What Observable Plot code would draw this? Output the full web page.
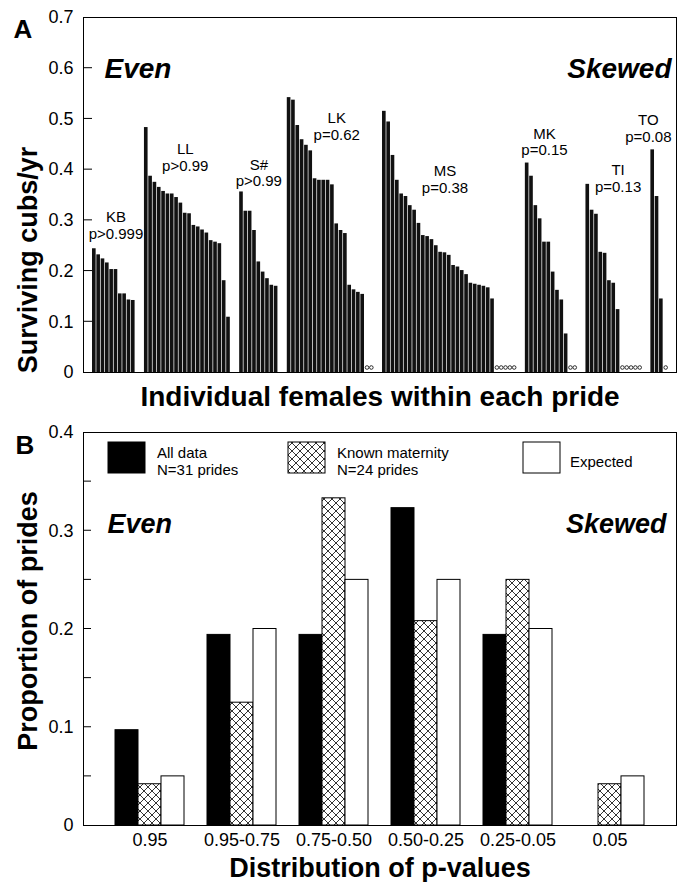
<!DOCTYPE html>
<html><head><meta charset="utf-8">
<script src="https://cdn.jsdelivr.net/npm/d3@7"></script>
<script src="https://cdn.jsdelivr.net/npm/@observablehq/plot@0.6"></script>
<style>
body{margin:0;background:#fff;}
#wrap{width:687px;height:882px;overflow:hidden;}
svg{display:block;}
svg [aria-label^="y-axis"] text{font-size:18px;}
svg [aria-label^="x-axis"] text{font-size:18px;}
</style></head><body><div id="wrap"></div>
<script>
// ---------- Panel A data ----------
const prides = ["KB","LL","S#","LK","MS","MK","TI","TO"];
const pLabels = ["p>0.999","p>0.99","p>0.99","p=0.62","p=0.38","p=0.15","p=0.13","p=0.08"];
const kbCubs = [0.244,0.232,0.224,0.216,0.203,0.203,0.155,0.155,0.143,0.142];
const llCubs = [0.483,0.387,0.375,0.365,0.357,0.352,0.352,0.345,0.334,0.314,0.313,0.290,0.287,0.281,0.275,0.260,0.257,0.254,0.181,0.109];
const sCubs  = [0.356,0.318,0.318,0.280,0.218,0.198,0.185,0.172,0.170];
const lkCubs = [0.542,0.537,0.487,0.459,0.448,0.437,0.382,0.379,0.379,0.379,0.370,0.293,0.280,0.274,0.172,0.163,0.158,0.154];
const msCubs = [0.515,0.494,0.428,0.379,0.352,0.347,0.329,0.320,0.294,0.270,0.268,0.262,0.250,0.237,0.236,0.231,0.211,0.208,0.201,0.193,0.176,0.174,0.172,0.170,0.167,0.145];
const mkCubs = [0.413,0.387,0.329,0.303,0.257,0.257,0.198,0.162,0.143,0.076];
const tiCubs = [0.371,0.320,0.312,0.237,0.235,0.181,0.176,0.124];
const toCubs = [0.439,0.347,0.145];
const zeroFemales = [0,0,0,2,5,2,5,1];
// annotation layout (label slot offset within pride, label baseline value)
const labelOffset = [5,9,4,11,14,4,7,-1];
const labelY = [0.264,0.397,0.367,0.458,0.354,0.428,0.356,0.454];
const gapSlots = 2;
const yTicksA = [0,0.1,0.2,0.3,0.4,0.5,0.6,0.7];

// ---------- Panel B data ----------
const pCats = ["0.95","0.95-0.75","0.75-0.50","0.50-0.25","0.25-0.05","0.05"];
const seriesNames = ["All data","Known maternity","Expected"];
const allData = [0.097,0.194,0.194,0.323,0.194,0];
const knownMaternity = [0.042,0.125,0.333,0.208,0.250,0.042];
const expected = [0.05,0.20,0.25,0.25,0.20,0.05];
const yTicksB = [0,0.1,0.2,0.3,0.4];

const FONT = "'Liberation Sans', Arial, Helvetica, sans-serif";
const fmt = d => d === 0 ? "0" : d3.format(".1f")(d);

// ---------- build panel A ----------
const cubsByPride = [kbCubs,llCubs,sCubs,lkCubs,msCubs,mkCubs,tiCubs,toCubs];
const slots = [], bars = [], zeros = [], labels = [];
let k = 0;
const newSlot = () => { const key = "s" + (k++); slots.push(key); return key; };
prides.forEach((p, i) => {
  for (let g = 0; g < gapSlots; g++) newSlot();
  const start = slots.length;
  cubsByPride[i].forEach(v => bars.push({slot: newSlot(), v, pride: p}));
  for (let z = 0; z < zeroFemales[i]; z++) zeros.push({slot: newSlot(), v: 0});
  labels.push({slot: slots[start + labelOffset[i]], y: labelY[i], text: p + "\n" + pLabels[i]});
});
for (let g = 0; g < gapSlots; g++) newSlot();

const chartA = Plot.plot({
  width: 687, height: 415,
  marginTop: 17, marginBottom: 43, marginLeft: 83, marginRight: 11,
  style: {fontFamily: FONT, fontSize: "17px", color: "black", background: "white"},
  x: {type: "band", domain: slots, padding: 0, axis: null},
  y: {domain: [0, 0.7], ticks: yTicksA, tickFormat: fmt, tickSize: 0, tickPadding: 10, label: null},
  marks: [
    Plot.barY(bars, {x: "slot", y: "v", fill: "#111", insetLeft: 0.35, insetRight: 0.35}),
    Plot.dot(zeros, {x: "slot", y: "v", r: 1.8, stroke: "black", strokeWidth: 0.8, fill: "white", dy: -5}),
    Plot.text(labels, {x: "slot", y: "y", text: "text", lineAnchor: "bottom", lineHeight: 1.12, fontSize: 15, textAnchor: "middle"}),
    Plot.text(["Even"], {frameAnchor: "top-left", textAnchor: "start", lineAnchor: "bottom", dx: 21, dy: 60, fontSize: 28, fontWeight: "bold", fontStyle: "italic"}),
    Plot.text(["Skewed"], {frameAnchor: "top-right", textAnchor: "end", lineAnchor: "bottom", dx: -5, dy: 60, fontSize: 28, fontWeight: "bold", fontStyle: "italic"}),
    Plot.text(["A"], {frameAnchor: "top-left", textAnchor: "start", lineAnchor: "bottom", dx: -70, dy: 20, fontSize: 26, fontWeight: "bold"}),
    Plot.text(["Surviving cubs/yr"], {frameAnchor: "left", textAnchor: "middle", lineAnchor: "middle", rotate: -90, dx: -55, dy: 65, fontSize: 27, fontWeight: "bold"}),
    Plot.text(["Individual females within each pride"], {frameAnchor: "bottom", textAnchor: "middle", lineAnchor: "bottom", dy: 33, fontSize: 28, fontWeight: "bold"}),
    Plot.frame({stroke: "black", strokeWidth: 1})
  ]
});

// ---------- build panel B ----------
const seriesValues = [allData, knownMaternity, expected];
const slotsB = [], barsB = [];
pCats.forEach((c, i) => {
  slotsB.push("gap" + i);
  seriesNames.forEach((s, j) => {
    const key = c + "|" + s;
    slotsB.push(key);
    barsB.push({key, cat: c, series: s, v: seriesValues[j][i]});
  });
});
slotsB.push("gapEnd");
const tickKeys = pCats.map(c => c + "|" + seriesNames[1]);
const sel = s => barsB.filter(d => d.series === s && d.v > 0);

const chartB = Plot.plot({
  width: 687, height: 467,
  marginTop: 17, marginBottom: 57, marginLeft: 83, marginRight: 11,
  style: {fontFamily: FONT, fontSize: "17px", color: "black", background: "white"},
  x: {type: "band", domain: slotsB, padding: 0, ticks: tickKeys, tickFormat: d => d.split("|")[0], tickSize: 0, tickPadding: 8, label: null},
  y: {domain: [0, 0.4], ticks: yTicksB, tickFormat: fmt, tickSize: 0, tickPadding: 10, label: null},
  marks: [
    Plot.barY(sel(seriesNames[0]), {x: "key", y: "v", fill: "black", stroke: "black", strokeWidth: 1}),
    Plot.barY(sel(seriesNames[1]), {x: "key", y: "v", fill: "url(#xhatch)", stroke: "black", strokeWidth: 1}),
    Plot.barY(sel(seriesNames[2]), {x: "key", y: "v", fill: "white", stroke: "black", strokeWidth: 1}),
    Plot.text(["Even"], {frameAnchor: "top-left", textAnchor: "start", lineAnchor: "bottom", dx: 24, dy: 100, fontSize: 27, fontWeight: "bold", fontStyle: "italic"}),
    Plot.text(["Skewed"], {frameAnchor: "top-right", textAnchor: "end", lineAnchor: "bottom", dx: -10, dy: 100, fontSize: 27, fontWeight: "bold", fontStyle: "italic"}),
    Plot.text(["B"], {frameAnchor: "top-left", textAnchor: "start", lineAnchor: "bottom", dx: -68, dy: 21, fontSize: 26, fontWeight: "bold"}),
    Plot.text(["Proportion of prides"], {frameAnchor: "left", textAnchor: "middle", lineAnchor: "middle", rotate: -90, dx: -55, dy: -8, fontSize: 27, fontWeight: "bold"}),
    Plot.text(["Distribution of p-values"], {frameAnchor: "bottom", textAnchor: "middle", lineAnchor: "bottom", dy: 51, fontSize: 27, fontWeight: "bold"}),
    Plot.frame({stroke: "black", strokeWidth: 1})
  ]
});

// hatch pattern
const defs = d3.select(chartB).insert("defs", ":first-child");
const pat = defs.append("pattern").attr("id", "xhatch").attr("patternUnits", "userSpaceOnUse").attr("width", 8).attr("height", 8);
pat.append("rect").attr("width", 8).attr("height", 8).attr("fill", "white");
pat.append("path").attr("d", "M0,0L8,8M8,0L0,8M-1,7L1,9M7,-1L9,1").attr("stroke", "black").attr("stroke-width", 0.8);

// inward ticks drawn through the plots' own scales
function inwardTicks(chart, values, len) {
  const ys = chart.scale("y"), xs = chart.scale("x");
  const y = d3.scaleLinear(ys.domain, ys.range);
  const x0 = Math.min(...xs.range);
  d3.select(chart).append("g").attr("stroke", "black").attr("stroke-width", 1)
    .selectAll("line").data(values).join("line")
    .attr("x1", x0).attr("x2", x0 + len)
    .attr("y1", d => y(d)).attr("y2", d => y(d));
}
inwardTicks(chartA, [0.1,0.2,0.3,0.4,0.5,0.6], 9);
inwardTicks(chartB, [0.05,0.1,0.15,0.2,0.25,0.3,0.35], 8);

// legend inside panel B (positions relative to the frame's top-left)
(function legend() {
  const xs = chartB.scale("x"), ys = chartB.scale("y");
  const fx = Math.min(...xs.range), fy = Math.min(...ys.range);
  const g = d3.select(chartB).append("g").attr("font-family", FONT).attr("font-size", 15)
    .attr("fill", "black").attr("text-anchor", "start");
  const items = [
    {dx: 25, fill: "black", lines: ["All data", "N=31 prides"]},
    {dx: 205, fill: "url(#xhatch)", lines: ["Known maternity", "N=24 prides"]},
    {dx: 440, fill: "white", lines: ["Expected"]}
  ];
  items.forEach(it => {
    g.append("rect").attr("x", fx + it.dx).attr("y", fy + 10).attr("width", 37).attr("height", 31)
      .attr("fill", it.fill).attr("stroke", "black").attr("stroke-width", 1);
    const t = g.append("text").attr("text-anchor", "start");
    if (it.lines.length === 2) {
      t.append("tspan").attr("x", fx + it.dx + 49).attr("y", fy + 26).text(it.lines[0]);
      t.append("tspan").attr("x", fx + it.dx + 49).attr("y", fy + 43).text(it.lines[1]);
    } else {
      t.attr("x", fx + it.dx + 47).attr("y", fy + 35).text(it.lines[0]);
    }
  });
})();

const wrap = document.getElementById("wrap");
wrap.appendChild(chartA);
wrap.appendChild(chartB);
</script></body></html>
